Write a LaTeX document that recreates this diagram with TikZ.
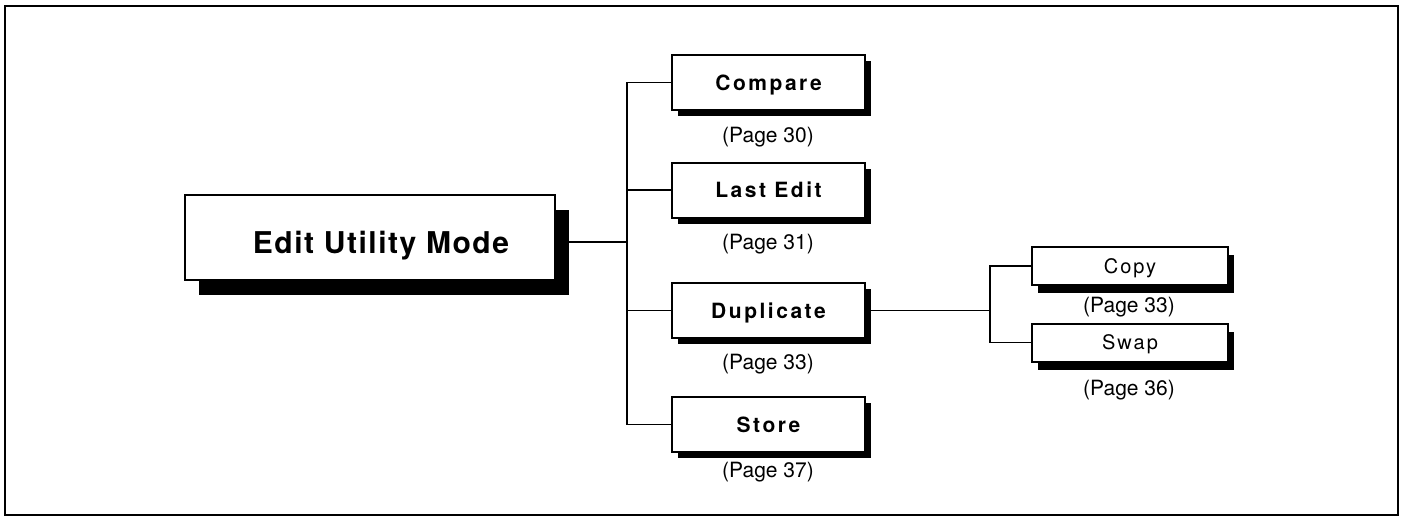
\documentclass[tikz,border=0pt]{standalone}
\usepackage{fontspec}
\setmainfont{TeX Gyre Heros}
\usetikzlibrary{shadows}
\begin{document}
\begin{tikzpicture}[x=1pt,y=-1pt,
  frame/.style={line width=1.5pt},
  conn/.style={line width=1.3pt},
  mainbox/.style={draw, line width=2pt, fill=white, minimum width=370pt, minimum height=85pt, inner sep=0pt,
    text height=32pt, text depth=0pt,
    drop shadow={shadow xshift=14pt, shadow yshift=-15pt, fill=black, opacity=1},
    font=\fontsize{30}{34}\selectfont\bfseries\addfontfeature{LetterSpace=5}},
  opbox/.style={draw, line width=2pt, fill=white, minimum width=193pt, minimum height=55pt, inner sep=0pt,
    text height=15pt, text depth=0pt,
    drop shadow={shadow xshift=6pt, shadow yshift=-6pt, fill=black, opacity=1},
    font=\fontsize{21}{24}\selectfont\bfseries\addfontfeature{LetterSpace=12}},
  subbox/.style={draw, line width=2pt, fill=white, minimum width=196pt, minimum height=38pt, inner sep=0pt,
    text height=14.4pt, text depth=0pt,
    drop shadow={shadow xshift=6pt, shadow yshift=-8pt, fill=black, opacity=1},
    font=\fontsize{20}{24}\selectfont\addfontfeature{LetterSpace=10}},
  pagelbl/.style={inner sep=0pt, text height=15pt, text depth=0pt, font=\fontsize{21}{24}\selectfont}
]
\useasboundingbox (0,0) rectangle (1403,520);
\draw[frame] (5,6) rectangle (1398,515);

\node[mainbox] (main) at (370,237.5) {\hspace*{22pt}Edit Utility Mode};

\node[opbox] (cmp) at (768.5,82.5) {Compare};
\node[opbox] (le)  at (768.5,190) {Last Edit};
\node[opbox] (dup) at (768.5,310.5) {Duplicate};
\node[opbox] (sto) at (768.5,424.5) {Store};

\node[pagelbl] (pcmp) at (768,135) {(Page 30)};
\node[pagelbl] (ple)  at (768,242) {(Page 31)};
\node[pagelbl] (pdup) at (768,362) {(Page 33)};
\node[pagelbl] (psto) at (768,470) {(Page 37)};

\node[subbox] (cpy) at (1130,266) {Copy};
\node[subbox] (swp) at (1130,342.5) {Swap};
\node[pagelbl] (pcpy) at (1129,305) {(Page 33)};
\node[pagelbl] (pswp) at (1129,388) {(Page 36)};

\coordinate (t1) at (627,242);
\coordinate (t2) at (990,310.5);

\draw[conn] ([yshift=-4.5pt]main.east) -- (t1);
\draw[conn] (cmp.west) -- (cmp.west -| t1) -- (sto.west -| t1) -- (sto.west);
\draw[conn] (le.west) -- (le.west -| t1);
\draw[conn] (dup.west) -- (dup.west -| t1);

\draw[conn] (dup.east) -- (t2);
\draw[conn] (cpy.west) -- (cpy.west -| t2) -- (swp.west -| t2) -- (swp.west);
\end{tikzpicture}
\end{document}
